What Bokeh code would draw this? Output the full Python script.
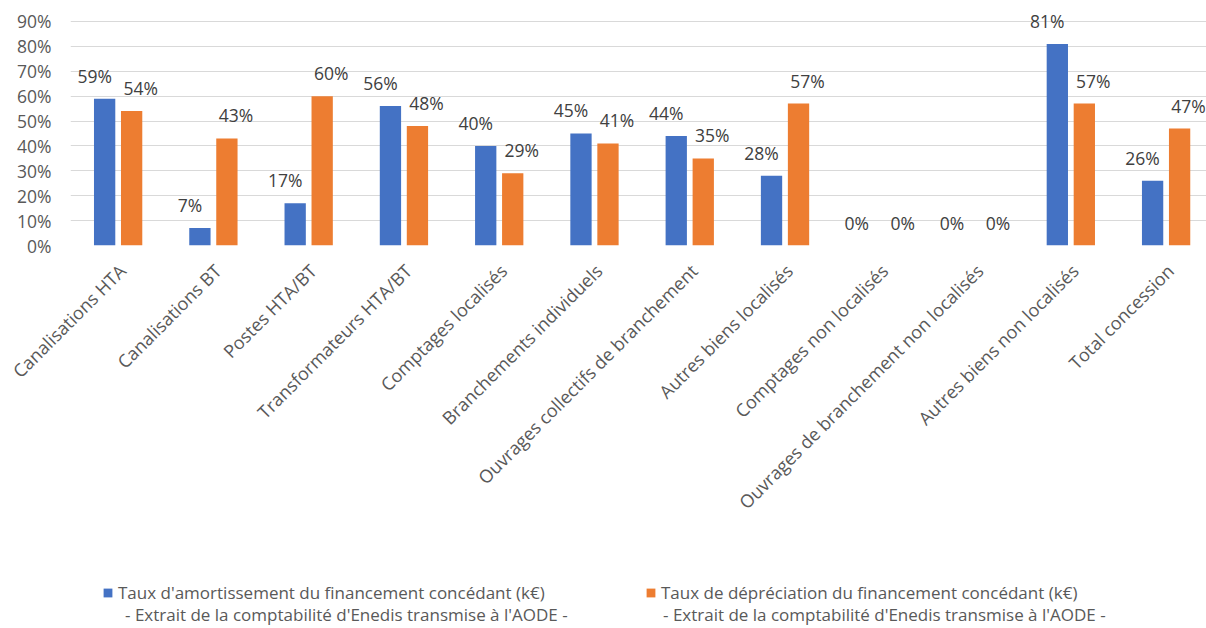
import math
from bokeh.plotting import figure
from bokeh.layouts import column
from bokeh.models import (ColumnDataSource, Range1d, FixedTicker, LabelSet, Legend,
                          LegendItem, NumeralTickFormatter)
from bokeh.transform import dodge
from bokeh.core.properties import value
from bokeh.embed import file_html
from bokeh.resources import INLINE

categories = [
    "Canalisations HTA", "Canalisations BT", "Postes HTA/BT", "Transformateurs HTA/BT",
    "Comptages localisés", "Branchements individuels", "Ouvrages collectifs de branchement",
    "Autres biens localisés", "Comptages non localisés", "Ouvrages de branchement non localisés",
    "Autres biens non localisés", "Total concession",
]
taux_amortissement = [0.59, 0.07, 0.17, 0.56, 0.40, 0.45, 0.44, 0.28, 0.00, 0.00, 0.81, 0.26]
taux_depreciation = [0.54, 0.43, 0.60, 0.48, 0.29, 0.41, 0.35, 0.57, 0.00, 0.00, 0.57, 0.47]
y_ticks = [0.0, 0.1, 0.2, 0.3, 0.4, 0.5, 0.6, 0.7, 0.8, 0.9]
series_names = [
    "Taux d'amortissement du financement concédant (k€)",
    "Taux de dépréciation du financement concédant (k€)",
]
series_source = "- Extrait de la comptabilité d'Enedis transmise à l'AODE -"

BLUE = "#4472C4"
ORANGE = "#ED7D31"
FONT = "Open Sans"

xpos = [i + 0.5 for i in range(len(categories))]
src = ColumnDataSource(dict(
    x=xpos,
    a=taux_amortissement,
    d=taux_depreciation,
    a_lbl=[f"{round(v * 100)}%" for v in taux_amortissement],
    d_lbl=[f"{round(v * 100)}%" for v in taux_depreciation],
))

p = figure(width=1206, height=570, output_backend="svg", toolbar_location=None,
           x_range=Range1d(0, 11.924), y_range=Range1d(0, 0.9843),
           min_border_left=70, min_border_right=0, min_border_top=0, min_border_bottom=325)
p.outline_line_color = None
p.background_fill_color = "white"
p.border_fill_color = "white"

bw = 0.2236
off = 0.1417
r1 = p.vbar(x=dodge("x", -off, range=p.x_range), top="a", width=bw, source=src,
            fill_color=BLUE, line_color=None)
r2 = p.vbar(x=dodge("x", off, range=p.x_range), top="d", width=bw, source=src,
            fill_color=ORANGE, line_color=None)

for col, lbl, o, xo in (("a", "a_lbl", -off, -10), ("d", "d_lbl", off, 9)):
    ls = LabelSet(x=dodge("x", o, range=p.x_range), y=col, text=lbl, source=src,
                  x_offset=xo, y_offset=16, text_align="center", text_baseline="alphabetic",
                  text_font=value(FONT), text_font_size=value("17.5px"), text_color="#404040")
    p.add_layout(ls)

# y axis
p.yaxis.ticker = FixedTicker(ticks=y_ticks)
p.yaxis.formatter = NumeralTickFormatter(format="0%")
p.yaxis.axis_line_color = None
p.yaxis.major_tick_line_color = None
p.yaxis.minor_tick_line_color = None
p.yaxis.major_tick_out = 0
p.yaxis.major_tick_in = 0
p.yaxis.major_label_standoff = 19
p.yaxis.major_label_text_font = FONT
p.yaxis.major_label_text_font_size = "17.5px"
p.yaxis.major_label_text_color = "#595959"

p.ygrid.ticker = FixedTicker(ticks=y_ticks)
p.ygrid.grid_line_color = "#D9D9D9"
p.ygrid.grid_line_width = 1
p.xgrid.grid_line_color = None

# x axis (label anchors nudged slightly right of the category centre, as in the source)
label_pos = [x + 0.045 for x in xpos]
p.xaxis.ticker = FixedTicker(ticks=label_pos)
p.xaxis.major_label_overrides = {x: c for x, c in zip(label_pos, categories)}
p.xaxis.axis_line_color = None
p.xaxis.major_tick_line_color = None
p.xaxis.minor_tick_line_color = None
p.xaxis.major_tick_out = 0
p.xaxis.major_tick_in = 0
p.xaxis.major_label_orientation = math.pi / 4
p.xaxis.major_label_standoff = 22
p.xaxis.major_label_text_font = FONT
p.xaxis.major_label_text_font_size = "18px"
p.xaxis.major_label_text_color = "#595959"

# legend strip below the chart (its frame is aligned with the chart's frame, starting at x=70)
q = figure(width=1206, height=58, output_backend="svg", toolbar_location=None,
           x_range=Range1d(0, 11.924), y_range=Range1d(2, 3),
           x_axis_location=None, y_axis_location=None,
           min_border_left=70, min_border_right=0, min_border_top=0, min_border_bottom=0)
q.outline_line_color = None
q.grid.grid_line_color = None
q.border_fill_color = "white"
q.background_fill_color = "white"
# same series, kept outside the strip's visible y-range: only their legend swatches show
q1 = q.vbar(x="x", top="a", width=bw, source=src, fill_color=BLUE, line_color=None)
q2 = q.vbar(x="x", top="d", width=bw, source=src, fill_color=ORANGE, line_color=None)
q3 = q.vbar(x="x", top="a", width=bw, source=src, fill_alpha=0, line_color=None)
q4 = q.vbar(x="x", top="d", width=bw, source=src, fill_alpha=0, line_color=None)

common = dict(orientation="horizontal", padding=0, margin=0, spacing=0,
              glyph_width=11, glyph_height=11, label_standoff=5,
              label_text_font=FONT, label_text_font_size="17px", label_text_color="#595959",
              label_height=22, border_line_color=None, background_fill_alpha=0)

lg1 = Legend(items=[LegendItem(label=series_names[0], renderers=[q1]),
                    LegendItem(label=series_names[1], renderers=[q2])],
             location=(32, 24), label_width=527, **common)
lg2 = Legend(items=[LegendItem(label=series_source, renderers=[q3]),
                    LegendItem(label=series_source, renderers=[q4])],
             location=(39, 2), label_width=522, **common)
q.add_layout(lg1, "center")
q.add_layout(lg2, "center")

layout = column(p, q, spacing=0)
open("out.html", "w").write(file_html(layout, INLINE))
